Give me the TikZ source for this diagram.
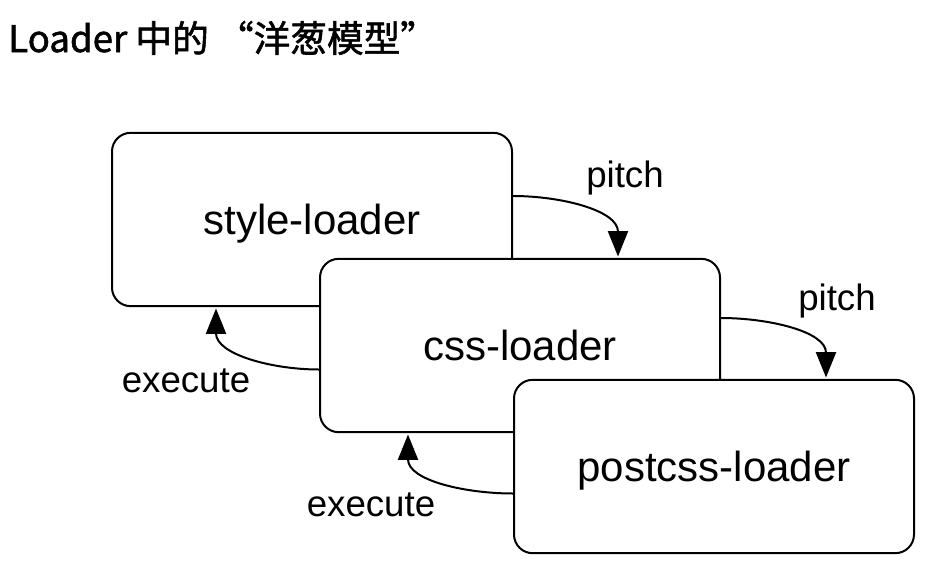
\documentclass[tikz,border=0pt]{standalone}
\usepackage{fontspec}
\setmainfont{Liberation Sans}
\newfontfamily\cjktitle[FakeBold=1.5]{Noto Sans CJK SC}
\usetikzlibrary{positioning,calc,arrows.meta}

\begin{document}
\begin{tikzpicture}[x=0.75pt, y=-0.75pt,
    loaderbox/.style={draw, line width=1.5pt, rounded corners=14pt, fill=white,
      minimum width=300pt, minimum height=130pt, font=\fontsize{31.5}{36}\selectfont,
      text height=24pt, text depth=2.2pt},
    flow/.style={line width=1.5pt, -{Triangle[length=19pt, width=15pt]}, shorten >=1pt},
    lbl/.style={anchor=base, font=\fontsize{27.5}{32}\selectfont}]
  \useasboundingbox (0,0) rectangle (926,569);
  % title
  \node[anchor=base west, inner sep=0pt, font=\cjktitle\fontsize{27.5}{32}\selectfont] (title) at (8,52) {Loader 中的 “洋葱模型”};
  % the three loaders, drawn back to front
  \node[loaderbox] (style) at (312,219.5) {style-loader};
  \node[loaderbox] (css) at (520,345.5) {css-loader};
  \node[loaderbox] (postcss) at (714,466.5) {postcss-loader};
  % pitch goes down, execute comes back up
  \draw[flow] ($(style.east)+(0,-23.5)$) to[out=0, in=90] ($(css.north)+(98,0)$);
  \draw[flow] ($(css.east)+(0,-27.5)$) to[out=0, in=90] ($(postcss.north)+(112,0)$);
  \draw[flow] ($(css.west)+(0,24)$) to[out=180, in=-90] ($(style.south)+(-96,0)$);
  \draw[flow] ($(postcss.west)+(0,27)$) to[out=180, in=-90] ($(css.south)+(-112,0)$);
  \node[lbl] (pitchA) at (625,187) {pitch};
  \node[lbl] (pitchB) at (837,310) {pitch};
  \node[lbl] (execA) at (186,392) {execute};
  \node[lbl] (execB) at (371,516) {execute};
\end{tikzpicture}
\end{document}
